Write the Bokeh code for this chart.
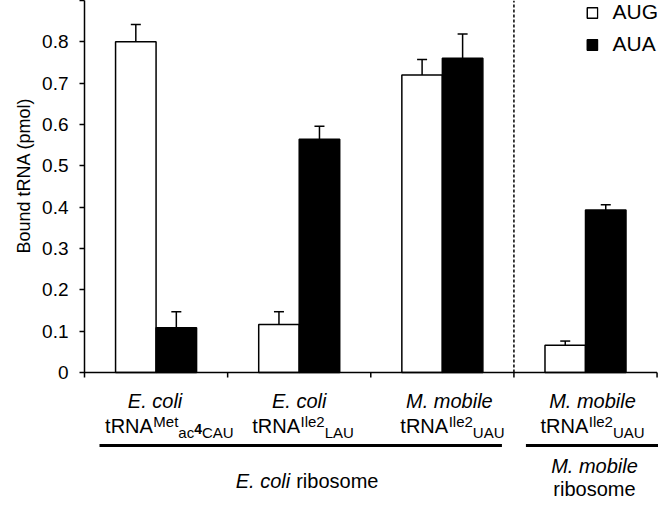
from bokeh.plotting import figure
from bokeh.models import (ColumnDataSource, FixedTicker, Range1d, Legend, LegendItem,
                          Whisker, TeeHead, Title)
from bokeh.core.properties import value
from bokeh.embed import file_html
from bokeh.resources import INLINE

# ---------------- data ----------------
species = ["E. coli", "E. coli", "M. mobile", "M. mobile"]
trna_base = ["tRNA", "tRNA", "tRNA", "tRNA"]
trna_sup = ["Met", "Ile2", "Ile2", "Ile2"]
trna_sub = [[("ac", "normal"), ("4", "bold"), ("CAU", "normal")],
            [("LAU", "normal")],
            [("UAU", "normal")],
            [("UAU", "normal")]]
aug = [0.800, 0.116, 0.720, 0.066]
aug_err = [0.042, 0.031, 0.037, 0.010]
aua = [0.108, 0.564, 0.760, 0.393]
aua_err = [0.039, 0.032, 0.059, 0.013]
series = ["AUG", "AUA"]
y_ticks = [0, 0.1, 0.2, 0.3, 0.4, 0.5, 0.6, 0.7, 0.8, 0.9]
y_tick_labels = ["0", "0.1", "0.2", "0.3", "0.4", "0.5", "0.6", "0.7", "0.8", ""]
y_title = "Bound tRNA (pmol)"
ribosome_species = ["E. coli", "M. mobile"]
ribosome_word = "ribosome"

# ---------------- geometry ----------------
W, H = 658, 501
ML = 84
X_END = 4.01
Y_END = 0.9
PX = (W - ML) / X_END          # px per x unit
PY = 413.3                     # px per y unit
Y_START = Y_END - H / PY
FONT = "Liberation Sans"
BW = 0.283
FS = 20       # main label font size
FSS = 15      # sub/superscript size

CW = {"t": 278, "R": 722, "N": 722, "A": 667, "M": 833, "e": 556, "I": 278, "l": 222,
      "2": 556, "a": 556, "c": 500, "4": 556, "C": 722, "U": 722, "L": 556}


def tw(s, size):
    return sum(CW.get(ch, 556) for ch in s) * size / 1000.0


def below(px):
    return -px / PY


p = figure(width=W, height=H, output_backend="svg", toolbar_location=None,
           x_range=Range1d(0, X_END), y_range=Range1d(Y_START, Y_END),
           x_axis_location=None, title=None,
           min_border_left=ML, min_border_right=0, min_border_top=0, min_border_bottom=0)
p.outline_line_color = None
p.grid.visible = False
p.background_fill_color = "white"

# y axis
ax = p.yaxis[0]
ax.bounds = (below(5), Y_END)
ax.ticker = FixedTicker(ticks=y_ticks, minor_ticks=[])
ax.major_label_overrides = dict(zip(y_ticks, y_tick_labels))
ax.major_tick_out = 5
ax.major_tick_in = 0
ax.minor_tick_out = 0
ax.minor_tick_in = 0
ax.axis_line_width = 1.5
ax.major_tick_line_width = 1.5
ax.major_label_text_font = FONT
ax.major_label_text_font_size = "19px"
ax.major_label_text_color = "black"
ax.major_label_standoff = 11

p.add_layout(Title(text=y_title, align="right", offset=97, standoff=8, vertical_align="top",
                   text_font=FONT, text_font_size="18px", text_font_style="normal",
                   text_color="black"), "left")

# bars
centers = [i + 0.5 for i in range(len(aug))]
src = ColumnDataSource(dict(
    xw=[c - BW / 2 for c in centers], xb=[c + BW / 2 for c in centers],
    aug=aug, aua=aua,
    aug_up=[v + e for v, e in zip(aug, aug_err)],
    aua_up=[v + e for v, e in zip(aua, aua_err)],
))
r_aug = p.vbar(x="xw", top="aug", bottom=0, width=BW, fill_color="white",
               line_color="black", line_width=1.5, source=src)
r_aua = p.vbar(x="xb", top="aua", bottom=0, width=BW, fill_color="black",
               line_color="black", line_width=1.5, source=src)

for base, lo, up in (("xw", "aug", "aug_up"), ("xb", "aua", "aua_up")):
    p.add_layout(Whisker(base=base, lower=lo, upper=up, source=src, dimension="height",
                         lower_head=None,
                         upper_head=TeeHead(size=10, line_width=1.5, line_color="black"),
                         line_width=1.5, line_color="black"))

# x axis line, ticks, separator
n = len(aug)
p.segment(x0=[0], y0=[0], x1=[n], y1=[0], line_color="black", line_width=1.5)
p.segment(x0=list(range(1, n + 1)), y0=[0] * n, x1=list(range(1, n + 1)),
          y1=[below(5)] * n, line_color="black", line_width=1.5)
p.segment(x0=[3], y0=[0], x1=[3], y1=[Y_END], line_color="black", line_width=1.5,
          line_dash="3 2")

# group underlines
p.segment(x0=[0 + 15 / PX, 3 + 12 / PX], y0=[below(73)] * 2,
          x1=[3 - 12 / PX, X_END], y1=[below(73)] * 2, line_color="black", line_width=3)

# texts
T = dict(x=[], y=[], text=[], size=[], style=[], align=[], dx=[])


def add(x, ypx, text, size, style="normal", align="left", dx=0.0):
    T["x"].append(x); T["y"].append(below(ypx)); T["text"].append(text)
    T["size"].append(f"{size}px"); T["style"].append(style); T["align"].append(align)
    T["dx"].append(dx)


line1_dx = [-1, 0, 7, 7]
line2_start = [-51, -47, -42, -45]
for i, c in enumerate(centers):
    add(c, 29, species[i], FS, "italic", "center", line1_dx[i])
    s = line2_start[i]
    add(c, 54, trna_base[i], FS, "normal", "left", s)
    xs = s + tw(trna_base[i], FS) + 0.5
    add(c, 49, trna_sup[i], FSS, "normal", "left", xs)
    xx = xs + tw(trna_sup[i], FSS)
    for txt, st in trna_sub[i]:
        if st == "bold":
            add(c, 57, txt, 14, "bold", "left", xx)
            xx += tw(txt, 14)
        else:
            add(c, 60, txt, FSS, "normal", "left", xx)
            xx += tw(txt, FSS)

add(1.5, 109, ribosome_species[0], FS, "italic", "right", -9)
add(1.5, 109, ribosome_word, FS, "normal", "left", -3)
add(3.5, 94, ribosome_species[1], FS, "italic", "center", 9)
add(3.5, 117, ribosome_word, FS, "normal", "center", 9)

tsrc = ColumnDataSource(T)
p.text(x="x", y="y", text="text", text_font_size="size", text_font_style="style",
       text_align="align", x_offset="dx", text_baseline="alphabetic",
       text_font=value(FONT), text_color="black", source=tsrc)

# legend
legend = Legend(items=[LegendItem(label=series[0], renderers=[r_aug]),
                       LegendItem(label=series[1], renderers=[r_aua])],
                location="top_right", glyph_width=13, glyph_height=13, label_height=13,
                label_standoff=14, spacing=8, padding=0, margin=0,
                border_line_color=None, background_fill_alpha=0,
                label_text_font=FONT, label_text_font_size="21px", label_text_color="black")
p.add_layout(legend)

open("out.html", "w").write(file_html(p, INLINE))
